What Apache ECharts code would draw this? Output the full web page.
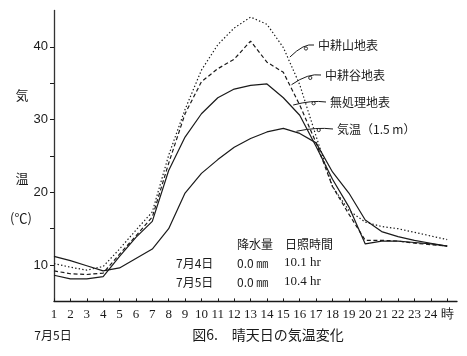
<!DOCTYPE html>
<html><head><meta charset="utf-8">
<script src="https://cdn.jsdelivr.net/npm/echarts@6/dist/echarts.min.js"></script>
<style>html,body{margin:0;padding:0;background:#fff}#c{width:467px;height:356px}</style>
</head><body><div id="c"></div>
<script>
// hours (25 = 時 end-of-day tick)
const hours = [1,2,3,4,5,6,7,8,9,10,11,12,13,14,15,16,17,18,19,20,21,22,23,24,25];
const xTickLabels = ['1','2','3','4','5','6','7','8','9','10','11','12','13','14','15','16','17','18','19','20','21','22','23','24','時'];
const yTickLabels = [10,20,30,40];
const yTicks = [10,15,20,25,30,35,40];

// series values (°C)
const yama    = [10.2, 9.7, 9.3, 9.8, 12.2, 14.8, 17.3, 25.1, 31.4, 36.8, 40.3, 42.6, 44.1, 43.1, 39.9, 34.8, 27.7, 20.8, 17.5, 15.9, 15.3, 15.0, 14.5, 14.0, 13.5];
const tani    = [9.2, 8.8, 8.7, 8.9, 11.5, 14.0, 16.6, 24.0, 30.8, 35.2, 37.0, 38.3, 40.8, 37.9, 36.5, 32.0, 26.8, 20.8, 17.0, 13.4, 13.4, 13.3, 13.0, 12.8, 12.6];
const mushori = [8.6, 8.1, 8.1, 8.4, 11.2, 13.8, 16.0, 23.0, 27.6, 30.8, 33.0, 34.2, 34.7, 34.9, 33.0, 30.6, 26.3, 21.8, 18.0, 12.9, 13.3, 13.3, 13.1, 12.9, 12.6];
const kion    = [11.2, 10.6, 9.9, 9.2, 9.6, 10.9, 12.2, 15.0, 19.9, 22.6, 24.5, 26.2, 27.4, 28.3, 28.8, 28.1, 26.8, 22.8, 19.9, 16.2, 14.6, 13.9, 13.4, 13.0, 12.6];

const seriesNames = ['中耕山地表','中耕谷地表','無処理地表','気温（1.5 m）'];
const tableHead = ['降水量','日照時間'];
const tableRows = [['7月4日','0.0 ㎜','10.1 hr'],['7月5日','0.0 ㎜','10.4 hr']];
const dateLabel = '7月5日';
const caption = '図6.　晴天日の気温変化';
const yTitle = ['気','温','(℃)'];
// leader anchor points on curves [hour, value]
const leaderAnchors = [[15.4, 38.6],[15.5, 34.8],[15.6, 32.0],[15.8, 28.4]];

const ink = '#1a1a1a';
const jp = '"Noto Sans CJK JP", sans-serif';
const num = '"Liberation Serif", serif';

const chart = echarts.init(document.getElementById('c'), null, {renderer:'canvas'});
const mk = arr => hours.map((h,i)=>[h, arr[i]]);
const lineS = (name, arr, type) => ({
  name, type:'line', data: mk(arr), symbol:'none', animation:false,
  lineStyle:{color:ink, width:1.2, type: type}
});

chart.setOption({
  animation:false,
  backgroundColor:'#fff',
  grid:{left:54, right:10, top:10.5, bottom:54.6},
  xAxis:{
    type:'value', min:1, max:25.6, interval:1,
    axisLine:{lineStyle:{color:ink, width:1.3}},
    axisTick:{inside:true, length:3, customValues:hours, lineStyle:{color:ink}},
    axisLabel:{customValues:hours, formatter:v=>xTickLabels[v-1], color:ink, fontFamily:num, fontSize:13, margin:7},
    splitLine:{show:false}
  },
  yAxis:{
    type:'value', min:5, max:45, interval:5,
    axisLine:{show:true, lineStyle:{color:'#333', width:1.3}},
    axisTick:{show:true, length:4, customValues:yTicks, lineStyle:{color:ink}},
    axisLabel:{customValues:yTickLabels, color:ink, fontFamily:'"Liberation Sans Narrow","Liberation Sans",sans-serif', fontSize:13, margin:6},
    splitLine:{show:false}
  },
  series:[
    lineS(seriesNames[0], yama, [1.4,2.2]),
    lineS(seriesNames[1], tani, [4,2.6]),
    lineS(seriesNames[2], mushori, 'solid'),
    lineS(seriesNames[3], kion, 'solid')
  ]
});

const g = [];
const txt = (x,y,t,opt) => g.push(Object.assign({type:'text', x, y, style:Object.assign({text:t, fill:ink, font:'12px '+jp, textVerticalAlign:'middle'}, opt||{})}));
// y title
txt(22,95,yTitle[0],{textAlign:'center', font:'13px '+jp});
txt(22,178,yTitle[1],{textAlign:'center', font:'13px '+jp});
txt(21,218,yTitle[2],{textAlign:'center', font:'13px '+jp});
// table
txt(237,244,tableHead[0]);
txt(285,244,tableHead[1]);
tableRows.forEach((r,i)=>{
  const y = 263 + i*19;
  txt(176,y,r[0]);
  txt(237,y,r[1]);
  txt(284,y,r[2],{font:'13px '+num});
});
txt(53,335,dateLabel,{textAlign:'center'});
txt(268,335,caption,{textAlign:'center', font:'14px '+jp});

// series labels with leaders
const labelPos = [[318,45],[325,75],[330,102],[337,129]];
labelPos.forEach((p,i)=>{
  txt(p[0],p[1],seriesNames[i]);
  const e = chart.convertToPixel({gridIndex:0}, leaderAnchors[i]);
  const sx = p[0]-4, sy = p[1];
  const cx = (sx+e[0])/2 + 2, cy = Math.min(sy,e[1]) - 2;
  g.push({type:'bezierCurve', shape:{x1:sx,y1:sy,x2:e[0],y2:e[1],cpx1:cx,cpy1:cy}, style:{stroke:ink, lineWidth:1, fill:null}});
  const mx = 0.25*sx+0.5*cx+0.25*e[0], my = 0.25*sy+0.5*cy+0.25*e[1];
  g.push({type:'circle', shape:{cx:mx+3, cy:my+1.5, r:1.6}, style:{stroke:ink, lineWidth:0.9, fill:'#fff'}});
});
chart.setOption({graphic:g});
</script>
</body></html>
